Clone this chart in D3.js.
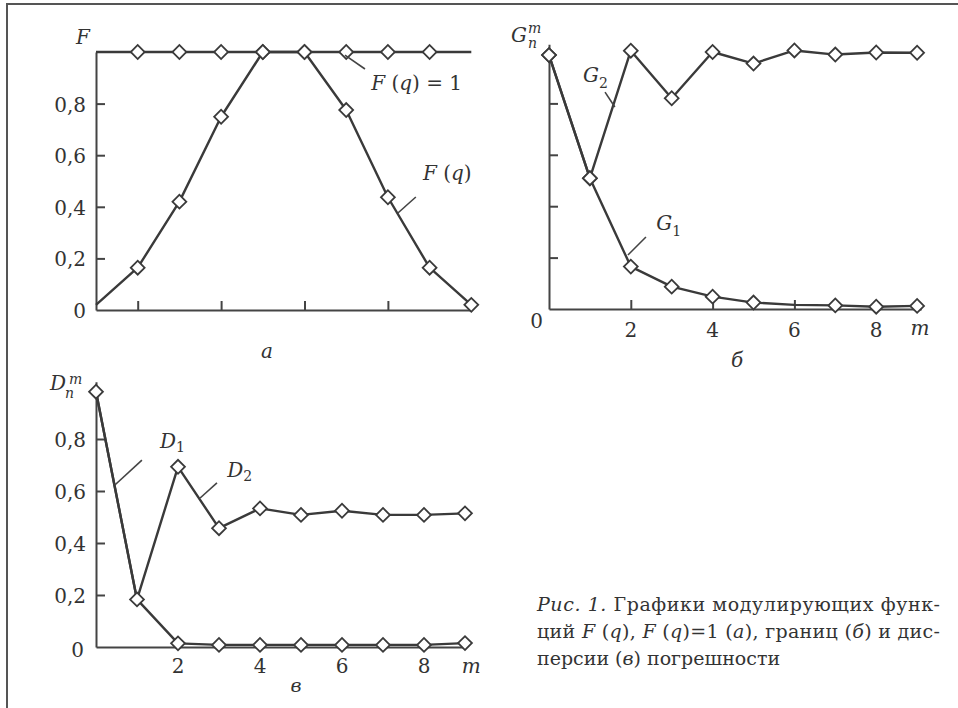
<!DOCTYPE html>
<html>
<head>
<meta charset="utf-8">
<style>
  body { margin: 0; background: #fff; }
  svg { display: block; }
  svg text { fill: #333; }
  .ln { fill: none; stroke: #3a3a3a; stroke-width: 2.4; stroke-linejoin: round; }
  .ax path, .ax line { stroke: #444; stroke-width: 2; }
  .mk { fill: #fff; stroke: #3a3a3a; stroke-width: 1.8; }
  .lead { stroke: #444; stroke-width: 1.6; }
</style>
<script src="https://d3js.org/d3.v7.min.js"></script>
</head>
<body>
<svg id="chart" width="958" height="708"></svg>
<script>
// step index m (shared by all three panels)
var steps = [0, 1, 2, 3, 4, 5, 6, 7, 8, 9];

// panel а: modulating functions
var fq   = [0.02, 0.164, 0.42, 0.749, 1.0, 1.0, 0.775, 0.437, 0.164, 0.02];
var fOne = [1, 1, 1, 1, 1, 1, 1, 1, 1, 1];
var fqMarks   = [1, 2, 3, 4, 5, 6, 7, 8, 9];
var fOneMarks = [1, 2, 3, 4, 5, 6, 7, 8];

// panel б: error bounds
var g1 = [0.988, 0.509, 0.165, 0.087, 0.048, 0.025, 0.016, 0.014, 0.009, 0.012];
var g2 = [0.988, 0.509, 1.005, 0.82, 1.0, 0.955, 1.006, 0.99, 0.998, 0.997];
var g1Marks = [0, 1, 2, 3, 4, 5, 7, 8, 9];
var g2Marks = [0, 1, 2, 3, 4, 5, 6, 7, 8, 9];

// panel в: error variance
var d1 = [0.982, 0.183, 0.014, 0.008, 0.008, 0.008, 0.008, 0.008, 0.008, 0.015];
var d2 = [0.982, 0.183, 0.693, 0.457, 0.533, 0.508, 0.524, 0.508, 0.508, 0.514];
var d1Marks = [0, 1, 2, 3, 4, 5, 6, 7, 8, 9];
var d2Marks = [2, 3, 4, 5, 6, 7, 8, 9];

// tick labels
var yTickVals = [0.2, 0.4, 0.6, 0.8];
var yTickLabels = ["0,2", "0,4", "0,6", "0,8"];
var aXTicks = [1, 3, 5, 7];
var mTicks = [2, 4, 6, 8];

var caption = [
  [["Рис. 1.", true], [" Графики модулирующих функ-", false]],
  [["ций ", false], ["F", true], [" (", false], ["q", true], ["),  ", false], ["F", true], [" (", false], ["q", true], [")=1 (", false], ["а", true], ["), границ (", false], ["б", true], [") и дис-", false]],
  [["персии (", false], ["в", true], [") погрешности", false]]
];

var serif = "DejaVu Serif";
var fs = 20;
var svg = d3.select("#chart");

// frame (only top and left edges are visible)
svg.append("line").attr("x1", 6).attr("y1", 4).attr("x2", 958).attr("y2", 4)
  .attr("stroke", "#555").attr("stroke-width", 2);
svg.append("line").attr("x1", 7).attr("y1", 3).attr("x2", 7).attr("y2", 708)
  .attr("stroke", "#555").attr("stroke-width", 2);

var diamond = d3.symbol(d3.symbolSquare, 96);

function panel(o) {
  var x = d3.scaleLinear().domain([0, 9]).range([o.x0, o.x0 + 9 * o.dx]);
  var y = d3.scaleLinear().domain([0, 1]).range([o.y0, o.y0 - o.dy]);
  var g = svg.append("g");

  // axes
  var xa = x.copy().domain([0, o.xEnd]).range([x(0), x(o.xEnd)]);
  g.append("g").attr("class", "ax").attr("transform", "translate(0," + y(0) + ")")
    .call(d3.axisBottom(xa).tickValues(o.xTicks).tickSizeInner(-9).tickSizeOuter(0).tickFormat(""));
  var ya = y.copy().domain([0, o.yEnd]).range([y(0), y(o.yEnd)]);
  g.append("g").attr("class", "ax").attr("transform", "translate(" + x(0) + ",0)")
    .call(d3.axisLeft(ya).tickValues(yTickVals).tickSizeInner(-9).tickSizeOuter(0).tickFormat(""));
  g.selectAll(".ax text").remove();

  var line = d3.line().x(function (d, i) { return x(steps[i]); }).y(function (d) { return y(d); });

  o.series.forEach(function (s) {
    g.append("path").attr("class", "ln").attr("d", line(s.v));
  });
  o.series.forEach(function (s) {
    g.selectAll(null).data(s.marks).enter().append("path")
      .attr("class", "mk")
      .attr("d", diamond)
      .attr("transform", function (m) { return "translate(" + x(m) + "," + y(s.v[m]) + ") rotate(45)"; });
  });

  // leader lines
  o.leads.forEach(function (l) {
    g.append("line").attr("class", "lead")
      .attr("x1", x(l[0])).attr("y1", y(l[1])).attr("x2", x(l[2])).attr("y2", y(l[3]));
  });

  return { g: g, x: x, y: y };
}

function label(g, px, py, parts, size, anchor) {
  var t = g.append("text").attr("x", px).attr("y", py)
    .attr("font-family", serif)
    .style("font-size", size + "px").attr("text-anchor", anchor || "start");
  parts.forEach(function (p) {
    var ts = t.append("tspan").text(p.t);
    if (p.i) ts.style("font-style", "italic");
    if (p.dy) ts.attr("dy", p.dy);
    if (p.dx) ts.attr("dx", p.dx);
    if (p.s) ts.style("font-size", p.s + "px");
  });
  return t;
}

// ---- panel а ----
var A = panel({
  x0: 96, dx: 41.7, y0: 310, dy: 258, xEnd: 9, yEnd: 1, xTicks: aXTicks,
  series: [{ v: fOne, marks: fOneMarks }, { v: fq, marks: fqMarks }],
  leads: [[5.97, 0.988, 6.45, 0.934], [7.24, 0.376, 7.67, 0.438]]
});
yTickVals.forEach(function (v, i) {
  label(A.g, 86, A.y(v) + 8, [{ t: yTickLabels[i] }], fs, "end");
});
label(A.g, 86, A.y(0) + 8, [{ t: "0" }], fs, "end");
label(A.g, 90, A.y(1) - 8, [{ t: "F", i: true }], fs, "end");
label(A.g, A.x(6.6), A.y(0.853), [{ t: "F", i: true }, { t: " (" }, { t: "q", i: true }, { t: ") = 1" }], fs);
label(A.g, A.x(7.84), A.y(0.504), [{ t: "F", i: true }, { t: " (" }, { t: "q", i: true }, { t: ")" }], fs);
label(A.g, A.x(4.1), 358, [{ t: "а", i: true }], fs, "middle");

// ---- panel б ----
var B = panel({
  x0: 549, dx: 40.9, y0: 309, dy: 257, xEnd: 9.1, yEnd: 1.03, xTicks: mTicks,
  series: [{ v: g1, marks: g1Marks }, { v: g2, marks: g2Marks }],
  leads: [[1.37, 0.844, 1.61, 0.786], [1.93, 0.21, 2.37, 0.28]]
});
mTicks.forEach(function (m) {
  label(B.g, B.x(m), 337, [{ t: String(m) }], fs, "middle");
});
label(B.g, 543, 328, [{ t: "0" }], fs, "end");
label(B.g, B.x(9.07), 335, [{ t: "m", i: true }], fs, "middle");
label(B.g, 511, 42, [{ t: "G", i: true },
  { t: "n", i: true, s: 14, dy: 6, dx: 1 },
  { t: "m", i: true, s: 14, dy: -15, dx: -9 }], fs);
label(B.g, B.x(0.83), B.y(0.883), [{ t: "G", i: true }, { t: "2", s: 14, dy: 6 }], fs);
label(B.g, B.x(2.62), B.y(0.307), [{ t: "G", i: true }, { t: "1", s: 14, dy: 6 }], fs);
label(B.g, 737, 367, [{ t: "б", i: true }], fs, "middle");

// ---- panel в ----
var C = panel({
  x0: 96, dx: 41, y0: 647, dy: 260, xEnd: 9, yEnd: 1.02, xTicks: [],
  series: [{ v: d1, marks: d1Marks }, { v: d2, marks: d2Marks }],
  leads: [[0.46, 0.623, 1.12, 0.719], [2.54, 0.573, 2.95, 0.631]]
});
yTickVals.forEach(function (v, i) {
  label(C.g, 86, C.y(v) + 8, [{ t: yTickLabels[i] }], fs, "end");
});
label(C.g, 84, 657, [{ t: "0" }], fs, "end");
mTicks.forEach(function (m) {
  label(C.g, C.x(m), 673, [{ t: String(m) }], fs, "middle");
});
label(C.g, C.x(9.15), 673, [{ t: "m", i: true }], fs, "middle");
label(C.g, 50, 390, [{ t: "D", i: true },
  { t: "n", i: true, s: 14, dy: 8, dx: -1 },
  { t: "m", i: true, s: 14, dy: -14, dx: -5 }], fs);
label(C.g, C.x(1.56), C.y(0.765), [{ t: "D", i: true }, { t: "1", s: 14, dy: 4 }], fs);
label(C.g, C.x(3.2), C.y(0.654), [{ t: "D", i: true }, { t: "2", s: 14, dy: 4 }], fs);
label(C.g, 296, 692, [{ t: "в", i: true }], 19, "middle");

// ---- caption ----
var capWidths = [403, 403, null];
caption.forEach(function (line, li) {
  var t = svg.append("text").attr("x", 537).attr("y", 611 + li * 27)
    .attr("font-family", serif).style("font-size", "19px");
  if (capWidths[li]) t.attr("textLength", capWidths[li]).attr("lengthAdjust", "spacing");
  line.forEach(function (p) {
    var ts = t.append("tspan").text(p[0]);
    if (p[1]) ts.style("font-style", "italic");
  });
});
</script>
</body>
</html>
